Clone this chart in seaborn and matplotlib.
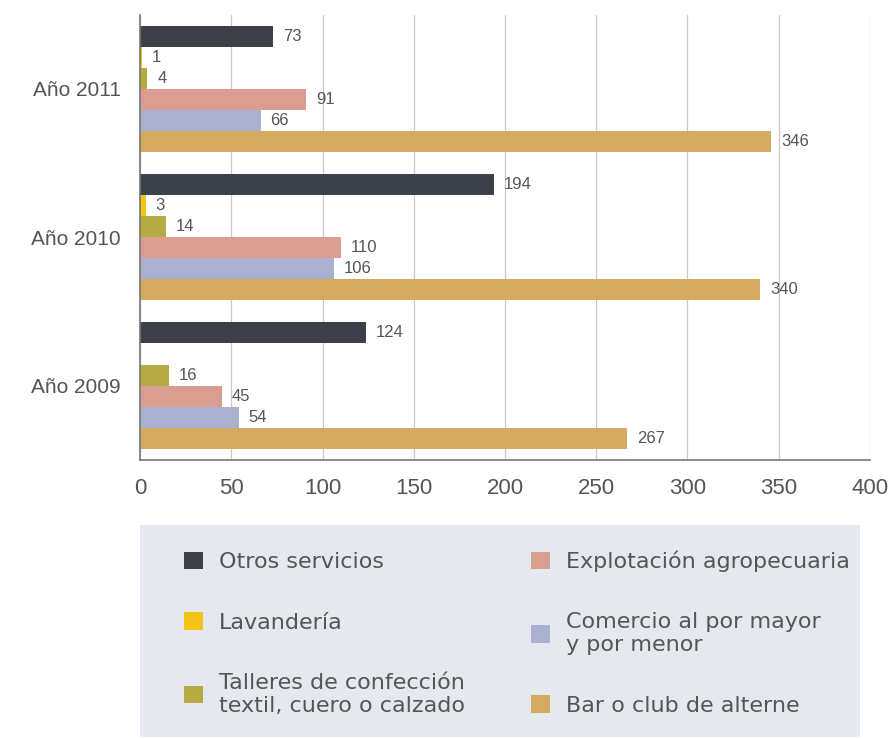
import numpy as np
import pandas as pd
import seaborn as sns
import matplotlib.pyplot as plt
from matplotlib.patches import Rectangle

# datos
anios = ["Año 2011", "Año 2010", "Año 2009"]
sectores = ["Otros servicios", "Lavandería",
            "Talleres de confección\ntextil, cuero o calzado",
            "Explotación agropecuaria",
            "Comercio al por mayor\ny por menor",
            "Bar o club de alterne"]
otros = [73, 194, 124]
lavanderia = [1, 3, np.nan]
talleres = [4, 14, 16]
explotacion = [91, 110, 45]
comercio = [66, 106, 54]
bar_club = [346, 340, 267]
colores = ["#3c4049", "#f2c418", "#b5ab45", "#d99e90", "#aab0d0", "#d4a960"]

valores = [otros, lavanderia, talleres, explotacion, comercio, bar_club]
filas = []
for sector, vals in zip(sectores, valores):
    for anio, v in zip(anios, vals):
        filas.append({"anio": anio, "sector": sector, "casos": v})
df = pd.DataFrame(filas)

sns.set_style("white")
plt.rcParams["font.family"] = ["Liberation Sans", "DejaVu Sans"]

fig = plt.figure(figsize=(8.93, 7.39), dpi=100)
ax = fig.add_axes([0.157, 0.378, 0.817, 0.602])

sns.barplot(data=df, y="anio", x="casos", hue="sector", order=anios,
            hue_order=sectores, palette=colores, orient="h", width=0.85,
            errorbar=None, legend=False, linewidth=0, saturation=1, ax=ax)

gris = "#555555"
for cont in ax.containers:
    etiquetas = ["" if np.isnan(b.get_width()) else f"{b.get_width():.0f}" for b in cont]
    ax.bar_label(cont, labels=etiquetas, padding=7, fontsize=12, color=gris)

ax.set_xlim(0, 400)
ax.set_xticks(range(0, 401, 50))
ax.xaxis.grid(True, color="#c9c9c9", linewidth=0.9)
ax.set_axisbelow(True)
ax.set_xlabel("")
ax.set_ylabel("")
ax.set_yticks([-0.5, 0.5, 1.5, 2.5], minor=True)
ax.tick_params(axis="y", which="major", length=0, labelsize=15, labelcolor=gris, pad=14)
ax.tick_params(axis="y", which="minor", length=4, color="#666666", direction="out")
ax.tick_params(axis="x", which="major", length=6, color="#666666", direction="inout",
               labelsize=16, labelcolor=gris, pad=10)
for lado in ["top", "right"]:
    ax.spines[lado].set_visible(False)
for lado in ["left", "bottom"]:
    ax.spines[lado].set_color("#777777")
    ax.spines[lado].set_linestyle((0, (1, 1)))
    ax.spines[lado].set_linewidth(1.2)

# fondo de la leyenda
fig.patches.append(Rectangle((0.157, 0.003), 0.806, 0.287, transform=fig.transFigure,
                             facecolor="#e5e8ef", edgecolor="none", zorder=0))

handles = [Rectangle((0, 0), 1, 1, facecolor=c, edgecolor="none") for c in colores]
leg = fig.legend(handles, sectores, loc="upper left", bbox_to_anchor=(0.194, 0.27),
                 ncol=2, frameon=False, borderpad=0, handlelength=0.85, handleheight=0.85,
                 handletextpad=0.7, labelspacing=1.8, columnspacing=3.0,
                 prop={"family": "DejaVu Sans", "size": 16})
for t in leg.get_texts():
    t.set_color(gris)

plt.savefig("out.png", dpi=100)
plt.close()
